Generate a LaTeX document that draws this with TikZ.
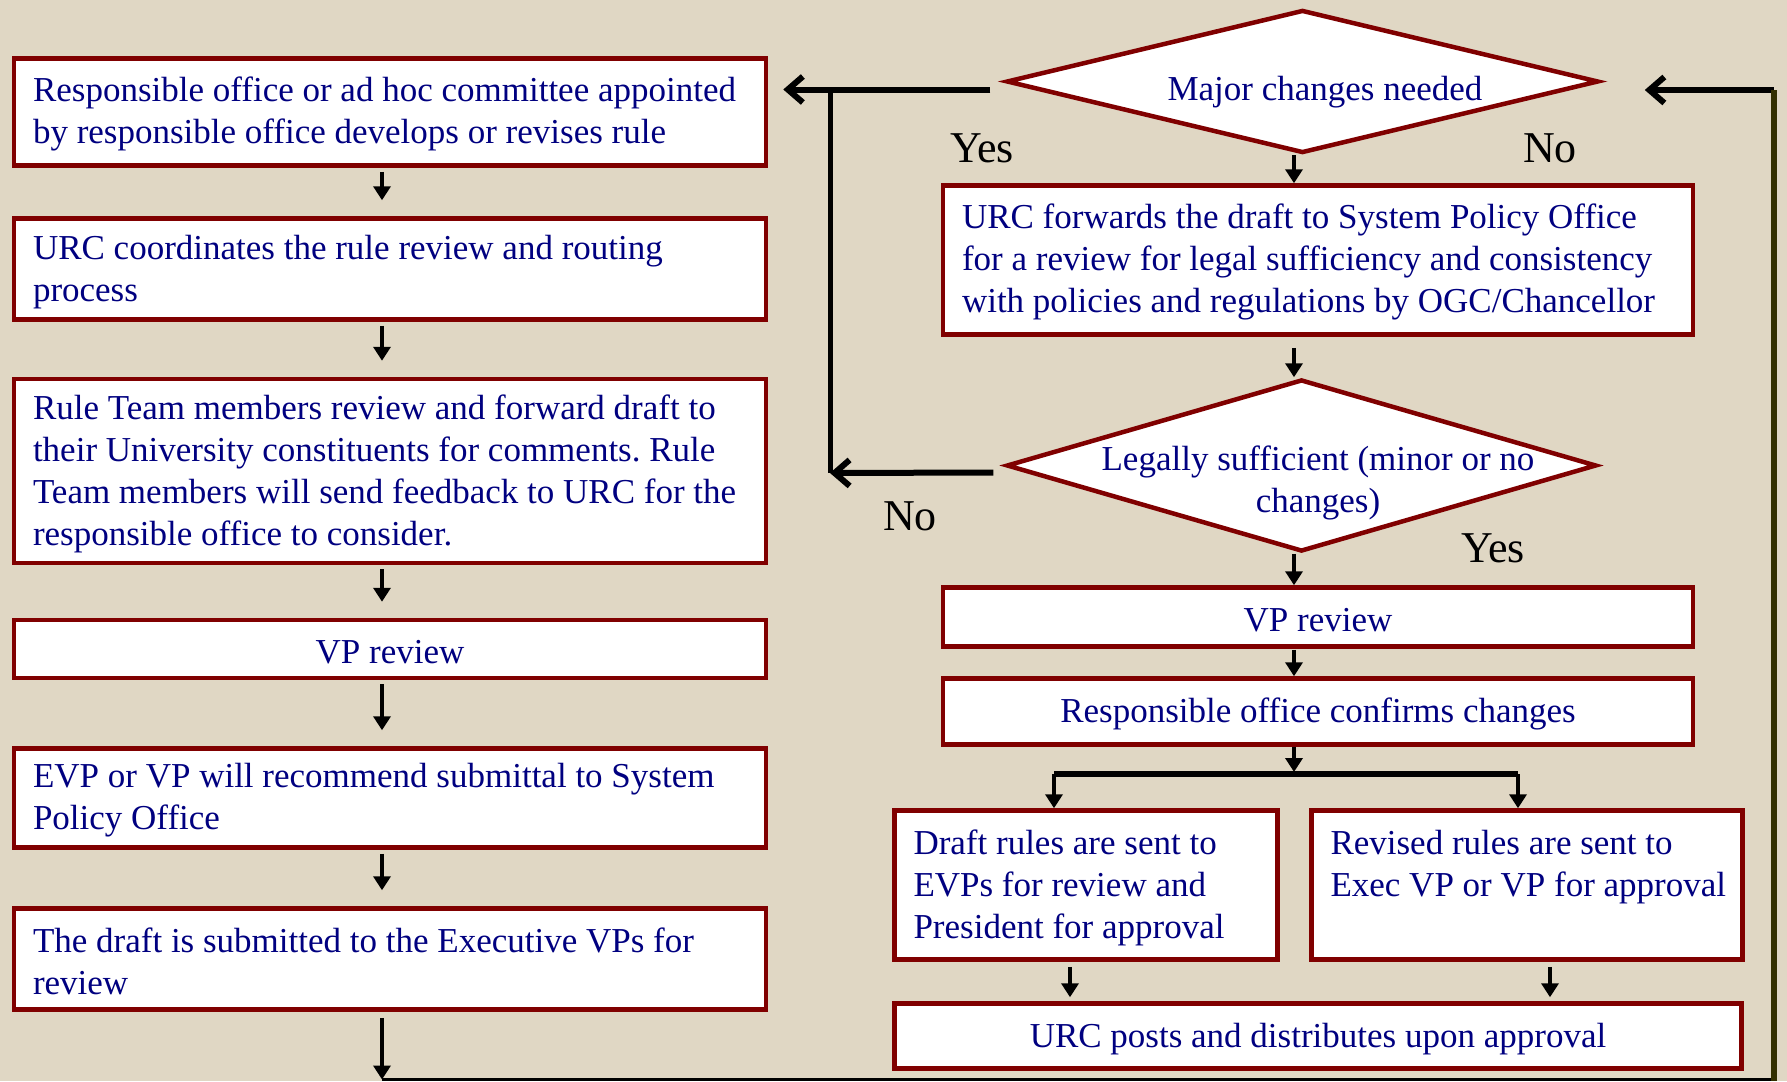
\documentclass[tikz,border=0pt]{standalone}
\usepackage{fontspec}
\setmainfont{Liberation Serif}
\frenchspacing
\usetikzlibrary{arrows.meta,shapes.geometric,calc}
\definecolor{bg}{RGB}{224,215,196}
\definecolor{boxred}{RGB}{128,0,0}
\definecolor{navytext}{RGB}{0,0,128}
\definecolor{olivedark}{RGB}{51,48,0}
\begin{document}
\begin{tikzpicture}[x=1pt,y=-1pt,
  box/.style={draw=boxred, line width=4.5pt, fill=white, inner xsep=19pt, inner ysep=0pt,
    text=navytext, font=\fontsize{35}{42}\selectfont,
    execute at begin node={\rule{0pt}{29.5pt}}},
  lbox/.style={box, align=flush left, text width=#1},
  cbox/.style={box, align=center, minimum width=#1},
  dia/.style={diamond, draw=boxred, line width=4.5pt, fill=white, inner sep=0pt},
  dtext/.style={text=navytext, font=\fontsize{35}{42}\selectfont, align=center},
  yn/.style={font=\fontsize{44}{50}\selectfont, text=black},
  sarr/.style={line width=4pt, -{Triangle[length=14pt,width=17pt]}},
  barr/.style={line width=6pt, -{Straight Barb[length=15pt,width=26pt]}},
]
\fill[bg] (0,0) rectangle (1787,1081);
\useasboundingbox (0,0) rectangle (1787,1081);

% left column
\node[lbox=714, minimum height=107] (b1) at (390,112)
  {Responsible office or ad hoc committee appointed\\by responsible office develops or revises rule};
\node[lbox=714, minimum height=101] (b2) at (390,269)
  {URC coordinates the rule review and routing\\process};
\node[lbox=714, minimum height=184] (b3) at (390,471)
  {Rule Team members review and forward draft to\\their University constituents for comments. Rule\\Team members will send feedback to URC for the\\responsible office to consider.};
\node[cbox=752, minimum height=58] (b4) at (390,649) {VP review};
\node[lbox=714, minimum height=99] (b5) at (390,798)
  {EVP or VP will recommend submittal to System\\Policy Office};
\node[lbox=714, minimum height=101] (b6) at (390,959)
  {The draft is submitted to the Executive VPs for\\review};

% right column
\node[dia, minimum width=592, minimum height=143] (d1) at (1302.5,81.5) {};
\node[dtext, anchor=base] (t1) at (1325,100) {Major changes needed};
\node[lbox=712, minimum height=149] (fwd) at (1318,260)
  {URC forwards the draft to System Policy Office\\for a review for legal sufficiency and consistency\\with policies and regulations by OGC/Chancellor};
\node[dia, minimum width=590, minimum height=172] (d2) at (1301.5,465.5) {};
\node[dtext] (t2) at (1318,483) {Legally sufficient (minor or no\\changes)};
\node[cbox=750, minimum height=59] (vp2) at (1318,617) {VP review};
\node[cbox=750, minimum height=66] (rc2) at (1318,711.5) {Responsible office confirms changes};
\node[lbox=345, minimum height=149] (draft) at (1086,885)
  {\mbox{Draft rules are sent to}\\\mbox{EVPs for review and}\\\mbox{President for approval}};
\node[lbox=393, minimum height=149] (rev) at (1527,885)
  {\mbox{Revised rules are sent to}\\\mbox{Exec VP or VP for approval}\\[0pt]\vphantom{Pp}};
\node[cbox=847, minimum height=65] (posts) at (1318,1036) {URC posts and distributes upon approval};

% labels
\node[yn, anchor=base] (yes1) at (982,162) {Yes};
\node[yn, anchor=base] (no1) at (1550,162) {No};
\node[yn, anchor=base] (no2) at (910,530) {No};
\node[yn, anchor=base] (yes2) at (1493,562) {Yes};

% left column arrows
\foreach \a/\b in {b1/b2,b2/b3,b3/b4,b4/b5,b5/b6}
  \draw[sarr] ($(\a.south)+(-8,4)$) -- ($(\b.north)+(-8,-16)$);

% coordinates
\coordinate (col) at (1294,0);
\coordinate (j1) at (830,89);
\coordinate (j2) at (830,473);
\coordinate (barL) at (1054,774);
\coordinate (barR) at (1518,774);
\coordinate (bar) at (1294,774);
\coordinate (c3) at (1070,0);
\coordinate (c4) at (1550,0);
\coordinate (tr) at (1774,90);
\coordinate (br) at (1774,1081);
\coordinate (bl) at (382,1079.5);

% yes / no loop back
\coordinate (s1) at ($(d1.west)+(-14,8)$);
\draw[barr] (s1) -- ($(b1.east|-s1)+(15,0)$);
\draw[line width=5pt] (j1) -- (j2);
\draw[barr] ($(d2.west)+(-11,7)$) -- (j2);

% right column arrows
\draw[sarr] (d1.south -| col) -- (fwd.north -| col);
\draw[sarr] ($(fwd.south -| col)+(0,11)$) -- (d2.north -| col);
\draw[sarr] (d2.south -| col) -- (vp2.north -| col);
\draw[sarr] ($(vp2.south -| col)+(0,1)$) -- (rc2.north -| col);
\draw[sarr] (rc2.south -| col) -- ($(bar)+(0,-2)$);
\draw[line width=6pt] (barL) -- (barR);
\draw[sarr] (barL) -- (draft.north -| barL);
\draw[sarr] (barR) -- (rev.north -| barR);
\draw[sarr] ($(draft.south -| c3)+(0,5)$) -- ($(posts.north -| c3)+(0,-4)$);
\draw[sarr] ($(rev.south -| c4)+(0,5)$) -- ($(posts.north -| c4)+(0,-4)$);

% bottom return loop
\draw[sarr] ($(b6.south)+(-8,6)$) -- (bl);
\draw[line width=3pt] (bl) -- (bl -| br);
\draw[barr] (tr) -- ($(d1.east|-tr)+(44,0)$);
\draw[olivedark, line width=6pt] (tr) -- (br);
\end{tikzpicture}
\end{document}
